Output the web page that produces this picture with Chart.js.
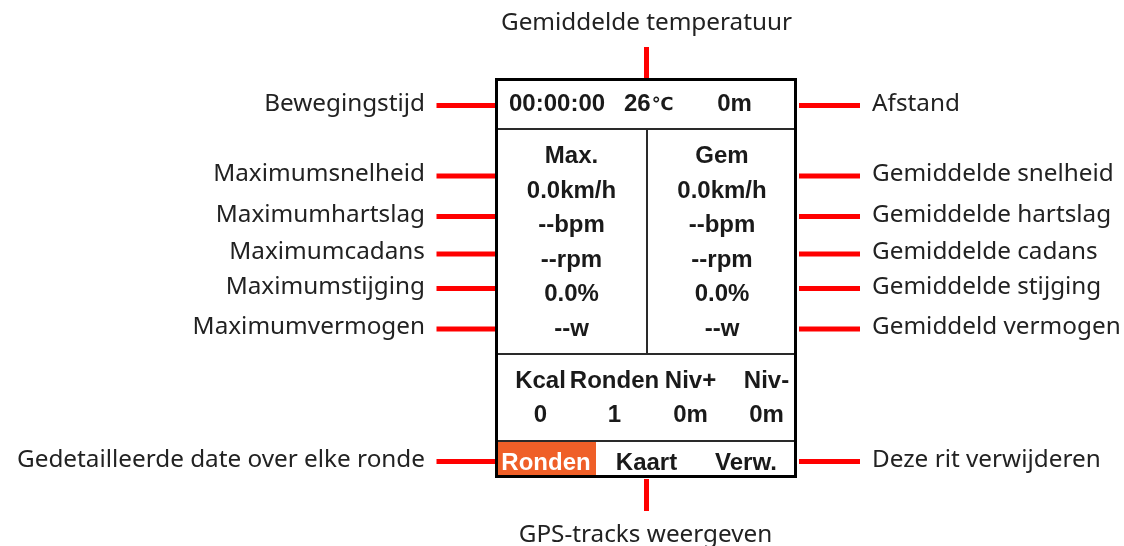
<!DOCTYPE html>
<html>
<head>
<meta charset="utf-8">
<script src="https://cdn.jsdelivr.net/npm/chart.js@4.4.1/dist/chart.umd.min.js"></script>
<style>
  html, body { margin: 0; padding: 0; background: #fff; }
  #wrap { width: 1124px; height: 546px; }
</style>
</head>
<body>
<div id="wrap"><canvas id="myChart"></canvas></div>
<script>
// callout texts
const leftLabels = ['Bewegingstijd', 'Maximumsnelheid', 'Maximumhartslag', 'Maximumcadans',
  'Maximumstijging', 'Maximumvermogen', 'Gedetailleerde date over elke ronde'];
const rightLabels = ['Afstand', 'Gemiddelde snelheid', 'Gemiddelde hartslag', 'Gemiddelde cadans',
  'Gemiddelde stijging', 'Gemiddeld vermogen', 'Deze rit verwijderen'];
const topLabel = 'Gemiddelde temperatuur';
const bottomLabel = 'GPS-tracks weergeven';

// screen contents
const statusValues = ['00:00:00', '26\u2103', '0m'];
const maxValues = ['Max.', '0.0km/h', '--bpm', '--rpm', '0.0%', '--w'];
const avgValues = ['Gem', '0.0km/h', '--bpm', '--rpm', '0.0%', '--w'];
const lapHeaders = ['Kcal', 'Ronden', 'Niv+', 'Niv-'];
const lapValues = ['0', '1', '0m', '0m'];
const tabs = ['Ronden', 'Kaart', 'Verw.'];

// layout (chart units == pixels)
const calloutRows = [105.5, 176, 216.5, 254, 288.5, 329, 461.5];
const box = { left: 496.5, right: 795.5, top: 79.5, bottom: 476.5 };
const RED = '#ff0000';
const INK = '#1a1a1a';
const ORANGE = '#ef5f28';
const labelFont = '24.3px "Noto Sans"';
const screenFont = 'bold 24px "Liberation Sans", Arial';

const datasets = [];
function seg(x1, y1, x2, y2) {
  datasets.push({
    data: [{ x: x1, y: y1 }, { x: x2, y: y2 }],
    showLine: true, borderColor: RED, borderWidth: 5,
    borderCapStyle: 'butt', pointRadius: 0, pointHoverRadius: 0
  });
}
calloutRows.forEach(y => {
  seg(436.5, y, 496, y);
  seg(799, y, 860, y);
});
seg(646.5, 47, 646.5, 79);
seg(646.5, 479, 646.5, 511);

const screenPlugin = {
  id: 'screen',
  afterDatasetsDraw(chart) {
    const c = chart.ctx;
    const sx = v => chart.scales.x.getPixelForValue(v);
    const sy = v => chart.scales.y.getPixelForValue(v);
    c.save();

    // device frame
    c.fillStyle = ORANGE;
    c.fillRect(sx(498), sy(442), 98, 33);
    c.fillStyle = '#2a2a2a';
    c.fillRect(sx(498), sy(128), 296, 2);
    c.fillRect(sx(646), sy(130), 2, 223);
    c.fillRect(sx(498), sy(353), 296, 2);
    c.fillRect(sx(498), sy(440), 296, 2);
    c.strokeStyle = '#000';
    c.lineWidth = 3;
    c.strokeRect(sx(box.left), sy(box.top), box.right - box.left, box.bottom - box.top);

    // callout labels
    c.font = labelFont;
    c.fillStyle = '#222';
    c.textBaseline = 'alphabetic';
    c.textAlign = 'right';
    leftLabels.forEach((t, i) => c.fillText(t, sx(425), sy(calloutRows[i] + 5)));
    c.textAlign = 'left';
    rightLabels.forEach((t, i) => c.fillText(t, sx(872), sy(calloutRows[i] + 5)));
    c.textAlign = 'center';
    c.fillText(topLabel, sx(646.5), sy(30));
    c.fillText(bottomLabel, sx(645.5), sy(542));

    // screen text
    c.font = screenFont;
    c.fillStyle = INK;
    c.textAlign = 'left';
    c.fillText(statusValues[0], sx(509), sy(111));
    // temperature: the degree sign is set smaller, like on the device
    const temp = statusValues[1];
    const num = temp.replace('\u2103', '');
    c.fillText(num, sx(624), sy(111));
    const nw = c.measureText(num).width;
    c.font = 'bold 18px "DejaVu Sans"';
    c.fillText('\u2103', sx(624) + nw + 1, sy(110));
    c.font = screenFont;
    c.textAlign = 'center';
    c.fillText(statusValues[2], sx(734.5), sy(111));
    const rowBase = [163, 198, 232, 267, 301, 336];
    maxValues.forEach((t, i) => c.fillText(t, sx(571.5), sy(rowBase[i])));
    avgValues.forEach((t, i) => c.fillText(t, sx(722), sy(rowBase[i])));
    const lapX = [540.5, 614.5, 690.5, 766.5];
    lapHeaders.forEach((t, i) => c.fillText(t, sx(lapX[i]), sy(388)));
    lapValues.forEach((t, i) => c.fillText(t, sx(lapX[i]), sy(422)));
    const tabX = [546, 646.5, 746];
    tabs.forEach((t, i) => {
      c.fillStyle = i === 0 ? '#fff' : INK;
      c.fillText(t, sx(tabX[i]), sy(470));
    });
    c.restore();
  }
};

const ctx = document.getElementById('myChart');
new Chart(ctx, {
  type: 'scatter',
  data: { datasets },
  options: {
    responsive: true,
    maintainAspectRatio: false,
    animation: false,
    events: [],
    layout: { padding: 0 },
    plugins: { legend: { display: false }, tooltip: { enabled: false } },
    scales: {
      x: { type: 'linear', min: 0, max: 1124, display: false },
      y: { type: 'linear', min: 0, max: 546, reverse: true, display: false }
    }
  },
  plugins: [screenPlugin]
});
</script>
</body>
</html>
